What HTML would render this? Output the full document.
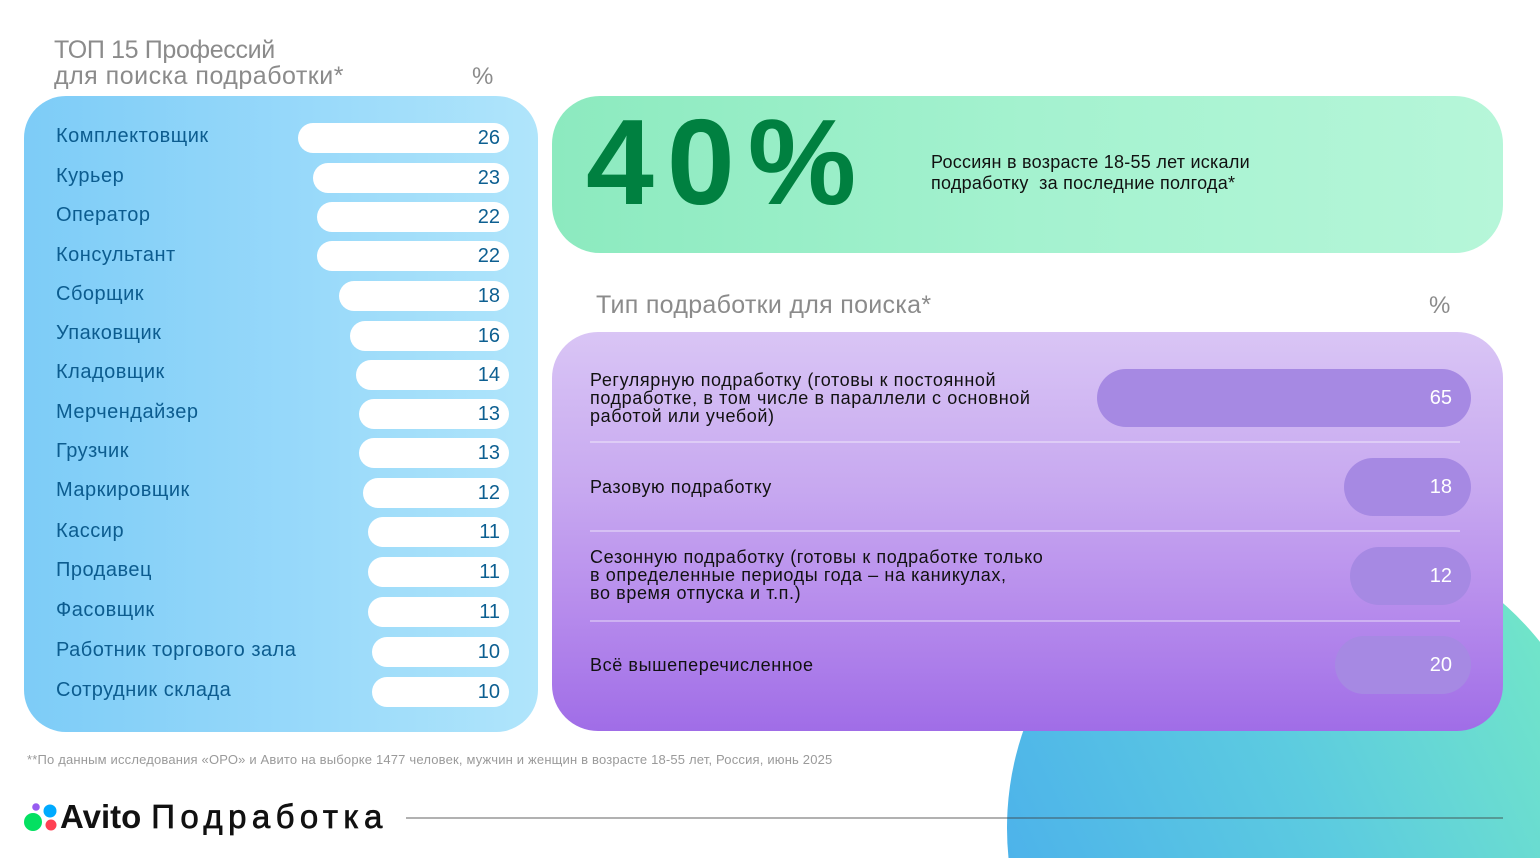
<!DOCTYPE html>
<html><head><meta charset="utf-8">
<style>
*{margin:0;padding:0;box-sizing:border-box}
html,body{width:1540px;height:858px;overflow:hidden;background:#fff}
body{font-family:"Liberation Sans","Noto Sans CJK SC",sans-serif}
#w{position:relative;width:1540px;height:858px;overflow:hidden}
.a{position:absolute;white-space:nowrap}
.lp{position:absolute;left:24px;top:96px;width:514px;height:636px;border-radius:42px;background:linear-gradient(90deg,#7dccf7 0%,#98d9fa 55%,#b0e5fb 100%)}
.gp{position:absolute;left:552px;top:96px;width:951px;height:157px;border-radius:48px;background:linear-gradient(90deg,#8ceabf 0%,#a4f2cf 50%,#b6f6d9 100%)}
.pp{position:absolute;left:552px;top:332px;width:951px;height:399px;border-radius:46px;background:linear-gradient(180deg,#d9c5f5 0%,#c7a8f0 40%,#b68bec 70%,#a06de7 100%)}
.lbl{position:absolute;left:56px;font-size:20px;color:#0c5c8f;line-height:24px;letter-spacing:0.5px;white-space:nowrap}
.bar{position:absolute;right:1031px;height:30px;border-radius:15px;background:#fff;color:#0d5f91;font-size:20px;line-height:30px;text-align:right;padding-right:9px}
.pill{position:absolute;right:69px;height:58px;border-radius:29px;background:#a689e3;color:#fff;font-size:20px;line-height:58px;text-align:right;padding-right:19px}
.pt{position:absolute;left:590px;font-size:18px;line-height:18px;color:#111;letter-spacing:0.6px;white-space:nowrap}
.sep{position:absolute;left:590px;width:870px;height:2px;background:rgba(255,255,255,0.35)}
.gray{color:#8b8b8b}
</style></head><body><div id="w">
<svg class="a" style="left:1000px;top:520px" width="540" height="338" viewBox="1000 520 540 338">
<defs><linearGradient id="bg" gradientUnits="userSpaceOnUse" x1="1010" y1="858" x2="1540" y2="600"><stop offset="0" stop-color="#4db3ea"/><stop offset="0.5" stop-color="#5ccbe0"/><stop offset="1" stop-color="#72e6c8"/></linearGradient></defs>
<path d="M1008.5 858 A299 299 0 0 1 1540 641.9 L1540 858 Z" fill="url(#bg)"/>
</svg>

<div class="a gray" style="left:54px;top:37px;font-size:25px;line-height:26px;letter-spacing:-0.35px">ТОП 15 Профессий</div>
<div class="a gray" style="left:54px;top:63px;font-size:25px;line-height:26px;letter-spacing:0.5px">для поиска подработки*</div>
<div class="a gray" style="left:472px;top:63px;font-size:24px">%</div>

<div class="lp"></div>
<div class="lbl" style="top:124px">Комплектовщик</div>
<div class="lbl" style="top:164px">Курьер</div>
<div class="lbl" style="top:203px">Оператор</div>
<div class="lbl" style="top:243px">Консультант</div>
<div class="lbl" style="top:282px">Сборщик</div>
<div class="lbl" style="top:321px">Упаковщик</div>
<div class="lbl" style="top:360px">Кладовщик</div>
<div class="lbl" style="top:400px">Мерчендайзер</div>
<div class="lbl" style="top:439px">Грузчик</div>
<div class="lbl" style="top:478px">Маркировщик</div>
<div class="lbl" style="top:519px">Кассир</div>
<div class="lbl" style="top:558px">Продавец</div>
<div class="lbl" style="top:598px">Фасовщик</div>
<div class="lbl" style="top:638px">Работник торгового зала</div>
<div class="lbl" style="top:678px">Сотрудник склада</div>

<div class="bar" style="top:123px;left:298px">26</div>
<div class="bar" style="top:163px;left:313px">23</div>
<div class="bar" style="top:202px;left:317px">22</div>
<div class="bar" style="top:241px;left:317px">22</div>
<div class="bar" style="top:281px;left:339px">18</div>
<div class="bar" style="top:321px;left:350px">16</div>
<div class="bar" style="top:360px;left:356px">14</div>
<div class="bar" style="top:399px;left:359px">13</div>
<div class="bar" style="top:438px;left:359px">13</div>
<div class="bar" style="top:478px;left:363px">12</div>
<div class="bar" style="top:517px;left:368px">11</div>
<div class="bar" style="top:557px;left:368px">11</div>
<div class="bar" style="top:597px;left:368px">11</div>
<div class="bar" style="top:637px;left:372px">10</div>
<div class="bar" style="top:677px;left:372px">10</div>

<div class="gp"></div>
<div class="a" style="left:586px;top:92px;font-size:122px;font-weight:bold;color:#008040;letter-spacing:13px;line-height:140px">40%</div>
<div class="a" style="left:931px;top:152px;font-size:18px;line-height:21px;color:#111;letter-spacing:0.25px">Россиян в возрасте 18-55 лет искали<br>подработку &nbsp;за последние полгода*</div>

<div class="a gray" style="left:596px;top:291px;font-size:25px;letter-spacing:0.3px">Тип подработки для поиска*</div>
<div class="a gray" style="left:1429px;top:292px;font-size:24px">%</div>

<div class="pp"></div>
<div class="pt" style="top:371px">Регулярную подработку (готовы к постоянной<br>подработке, в том числе в параллели с основной<br>работой или учебой)</div>
<div class="pill" style="top:369px;left:1097px">65</div>
<div class="sep" style="top:441px"></div>
<div class="pt" style="top:478px">Разовую подработку</div>
<div class="pill" style="top:458px;left:1344px">18</div>
<div class="sep" style="top:530px"></div>
<div class="pt" style="top:548px">Сезонную подработку (готовы к подработке только<br>в определенные периоды года – на каникулах,<br>во время отпуска и т.п.)</div>
<div class="pill" style="top:547px;left:1350px">12</div>
<div class="sep" style="top:620px"></div>
<div class="pt" style="top:656px">Всё вышеперечисленное</div>
<div class="pill" style="top:636px;left:1335px">20</div>

<div class="a" style="left:27px;top:752px;font-size:13px;color:#9a9a9a;letter-spacing:0.18px">**По данным исследования «ОРО» и Авито на выборке 1477 человек, мужчин и женщин в возрасте 18-55 лет, Россия, июнь 2025</div>

<div class="a" style="left:406px;top:817px;width:1097px;height:1.5px;background:rgba(60,60,60,0.4)"></div>

<svg class="a" style="left:20px;top:798px" width="40" height="40" viewBox="0 0 40 40">
<circle cx="16" cy="9" r="3.8" fill="#975cf0"/>
<circle cx="30" cy="13" r="6.5" fill="#00aaff"/>
<circle cx="13" cy="24" r="9" fill="#04e061"/>
<circle cx="31" cy="27" r="5.5" fill="#ff4053"/>
</svg>
<div class="a" style="left:60px;top:797px;font-size:33px;line-height:40px;color:#111"><b style="letter-spacing:0px">Avito</b><span style="display:inline-block;width:10px"></span><span style="letter-spacing:5.4px;-webkit-text-stroke:0.7px #111">Подработка</span></div>
</div></body></html>
